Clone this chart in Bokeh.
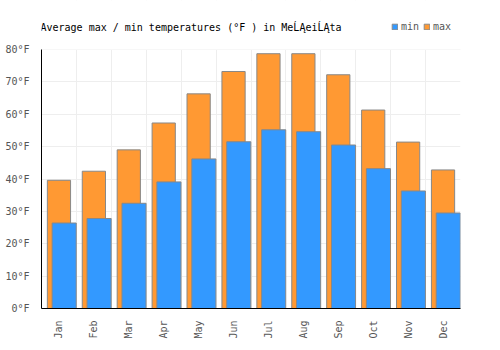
from bokeh.plotting import figure
from bokeh.models import (ColumnDataSource, Range1d, FixedTicker, PrintfTickFormatter,
                          Legend, LegendItem, Label, BoxAnnotation)
from bokeh.embed import file_html
from bokeh.resources import INLINE
import math

months = ["Jan", "Feb", "Mar", "Apr", "May", "Jun", "Jul", "Aug", "Sep", "Oct", "Nov", "Dec"]
max_f = [39.6, 42.4, 49.0, 57.3, 66.3, 73.2, 78.7, 78.7, 72.2, 61.3, 51.4, 42.8]
min_f = [26.4, 27.8, 32.5, 39.1, 46.2, 51.5, 55.2, 54.6, 50.5, 43.2, 36.3, 29.5]
y_ticks = [0, 10, 20, 30, 40, 50, 60, 70, 80]
title_text = "Average max / min temperatures (°F ) in MeĹĄeiĹĄta"

FONT = "DejaVu Sans Mono"

W, H = 500, 350
B_LEFT, B_RIGHT, B_BOTTOM = 41, 40, 42
AXIS_TOP_PX = 49          # pixel row of the top tick (80°F)
frame_h = H - B_BOTTOM
y_top = y_ticks[-1] * frame_h / (frame_h - AXIS_TOP_PX)

idx = list(range(len(months)))
src = ColumnDataSource(dict(
    x_max=[i + 0.5 for i in idx],
    x_min=[i + 0.65 for i in idx],
    max_f=max_f, min_f=min_f,
))

p = figure(width=W, height=H, output_backend="svg", toolbar_location=None,
           x_range=Range1d(0, len(months)), y_range=Range1d(0, y_top),
           min_border_left=B_LEFT, min_border_right=B_RIGHT, min_border_top=0,
           min_border_bottom=B_BOTTOM)
p.outline_line_color = None
p.background_fill_color = "white"
p.border_fill_color = "white"

r_max = p.vbar(x="x_max", top="max_f", bottom=0, width=0.665, source=src,
               fill_color="#FF9933", line_color="#888888", line_width=1)
r_min = p.vbar(x="x_min", top="min_f", bottom=0, width=0.69, source=src,
               fill_color="#3399FF", line_color="#888888", line_width=1)

# hide the grid above the top tick
p.add_layout(BoxAnnotation(bottom=y_ticks[-1], fill_color="white", fill_alpha=1,
                           line_color=None, level="glyph"))

# axes
p.xaxis.ticker = FixedTicker(ticks=[i + 0.5 for i in idx])
p.xaxis.major_label_overrides = {i + 0.5: m for i, m in zip(idx, months)}
p.xaxis.major_label_orientation = math.pi / 2
p.yaxis.ticker = FixedTicker(ticks=y_ticks)
p.yaxis.formatter = PrintfTickFormatter(format="%d°F")
p.yaxis.bounds = (y_ticks[0], y_ticks[-1])
for ax in (p.xaxis, p.yaxis):
    ax.major_tick_line_color = None
    ax.minor_tick_line_color = None
    ax.axis_line_color = "black"
    ax.axis_line_width = 1
    ax.major_label_text_font = FONT
    ax.major_label_text_font_size = "10px"
    ax.major_label_text_color = "#555555"
    ax.major_label_standoff = 6

p.xgrid.ticker = FixedTicker(ticks=list(range(len(months) + 1)))
p.xgrid.grid_line_color = "#eeeeee"
p.ygrid.ticker = FixedTicker(ticks=y_ticks)
p.ygrid.grid_line_color = "#eeeeee"

p.add_layout(Label(x=-1, y=frame_h - 27, x_units="screen", y_units="screen",
                   text=title_text, text_font=FONT, text_font_size="10px",
                   text_color="black", text_baseline="alphabetic"))

legend = Legend(items=[LegendItem(label="min", renderers=[r_min]),
                       LegendItem(label="max", renderers=[r_max])],
                orientation="horizontal", location=(350, frame_h - 32),
                glyph_width=7, glyph_height=7, label_height=7, label_standoff=3,
                spacing=2, padding=0, margin=0,
                label_text_font=FONT, label_text_font_size="10px",
                label_text_color="#555555",
                border_line_color=None, background_fill_alpha=0)
p.add_layout(legend, "center")

open("out.html", "w").write(file_html(p, INLINE))
